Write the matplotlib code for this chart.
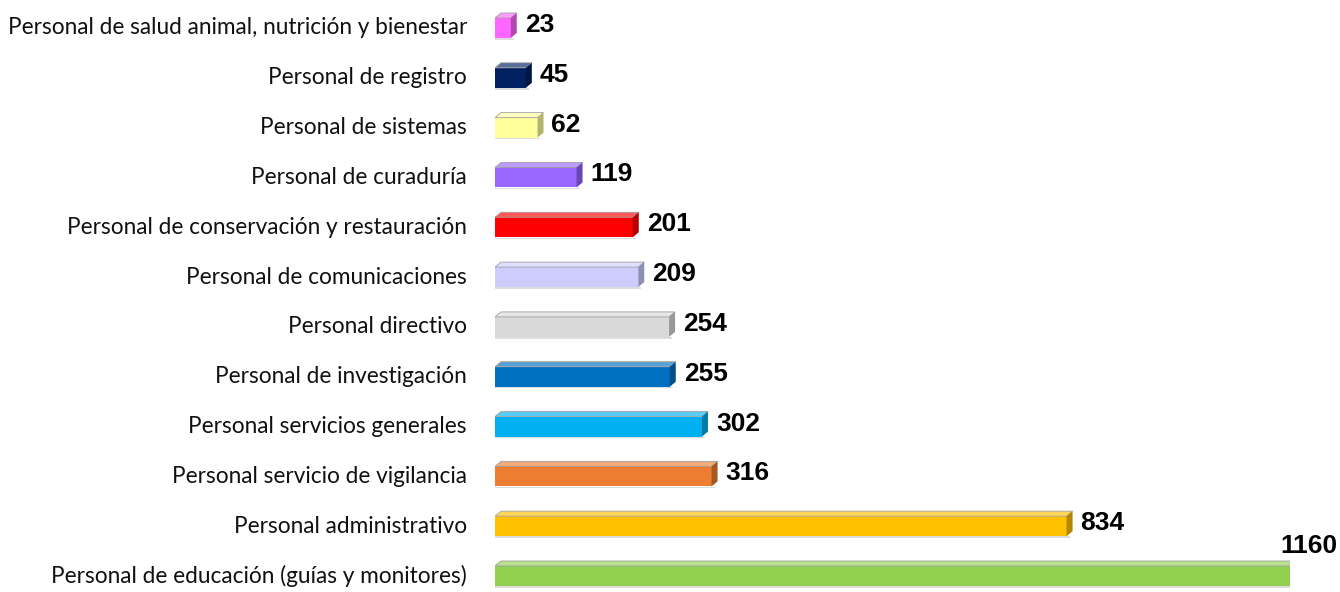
import matplotlib
matplotlib.use("Agg")
import matplotlib.pyplot as plt
from matplotlib.patches import Polygon
from matplotlib.colors import to_rgb
import numpy as np

categories = [
    "Personal de educación (guías y monitores)",
    "Personal administrativo",
    "Personal servicio de vigilancia",
    "Personal servicios generales",
    "Personal de investigación",
    "Personal directivo",
    "Personal de comunicaciones",
    "Personal de conservación y restauración",
    "Personal de curaduría",
    "Personal de sistemas",
    "Personal de registro",
    "Personal de salud animal, nutrición y bienestar",
]
values = [1160, 834, 316, 302, 255, 254, 209, 201, 119, 62, 45, 23]
colors = ["#92D050", "#FFC000", "#ED7D31", "#00B0F0", "#0070C0", "#D9D9D9",
          "#CCCCFF", "#FF0000", "#9966FF", "#FFFF99", "#002060", "#FF66FF"]

W, H = 1340, 592
fig = plt.figure(figsize=(W / 100, H / 100), dpi=100)
x0_px, x1_px = 495, 1290
ytop_px, ybot_px = 28, 576
n = len(categories)
step = (ybot_px - ytop_px) / (n - 1)
ax_bottom_px = ybot_px + step / 2
ax_h_px = step * n
ax = fig.add_axes([x0_px / W, (H - ax_bottom_px) / H, (x1_px - x0_px) / W, ax_h_px / H])
ax.set_xlim(0, max(values))
ax.set_ylim(-0.5, n - 0.5)
ax.axis("off")

px = max(values) / (x1_px - x0_px)   # data units per pixel (x)
bar_h = 20 / step
dx = 6 * px
dy = 5 / step

def lighten(c, f):
    r = np.array(to_rgb(c))
    return tuple(r + (1 - r) * f)

def darken(c, f):
    return tuple(np.array(to_rgb(c)) * f)

y = np.arange(n)
bars = ax.barh(y, values, height=bar_h, color=colors, edgecolor="none", zorder=3)
for b, c in zip(bars, colors):
    x, yb, w, h = b.get_x(), b.get_y(), b.get_width(), b.get_height()
    # soft shadow under the bar
    ax.add_patch(Polygon([(x, yb - 0.035), (x + w + dx * 0.5, yb - 0.035), (x + w + dx * 0.5, yb - 0.005), (x, yb - 0.005)],
                         closed=True, facecolor="#bbbbbb", alpha=0.5, edgecolor="none", zorder=2))
    top = [(x, yb + h), (x + dx, yb + h + dy), (x + w + dx, yb + h + dy), (x + w, yb + h)]
    ax.add_patch(Polygon(top, closed=True, facecolor=lighten(c, 0.35), edgecolor="#a0a0a0", lw=0.6, zorder=4))
    side = [(x + w, yb), (x + w + dx, yb + dy), (x + w + dx, yb + h + dy), (x + w, yb + h)]
    ax.add_patch(Polygon(side, closed=True, facecolor=darken(c, 0.7), edgecolor="none", zorder=4))

for yi, name in zip(y, categories):
    ax.text(-28 * px, yi, name, ha="right", va="center",
            fontsize=16.3, family=["Lato", "DejaVu Sans"], color="#111111", clip_on=False)

pad = 14 * px
vmax = max(values)
lab_font = ["Liberation Sans", "DejaVu Sans"]
for yi, v in zip(y, values):
    if v == vmax:
        ax.text(v + 48 * px, yi + 0.6, str(v), ha="right", va="center", fontsize=19, fontweight="bold",
                family=lab_font, clip_on=False)
    else:
        ax.text(v + pad, yi + 0.06, str(v), ha="left", va="center", fontsize=19, fontweight="bold",
                family=lab_font, clip_on=False)

fig.savefig("out.png", dpi=100)
